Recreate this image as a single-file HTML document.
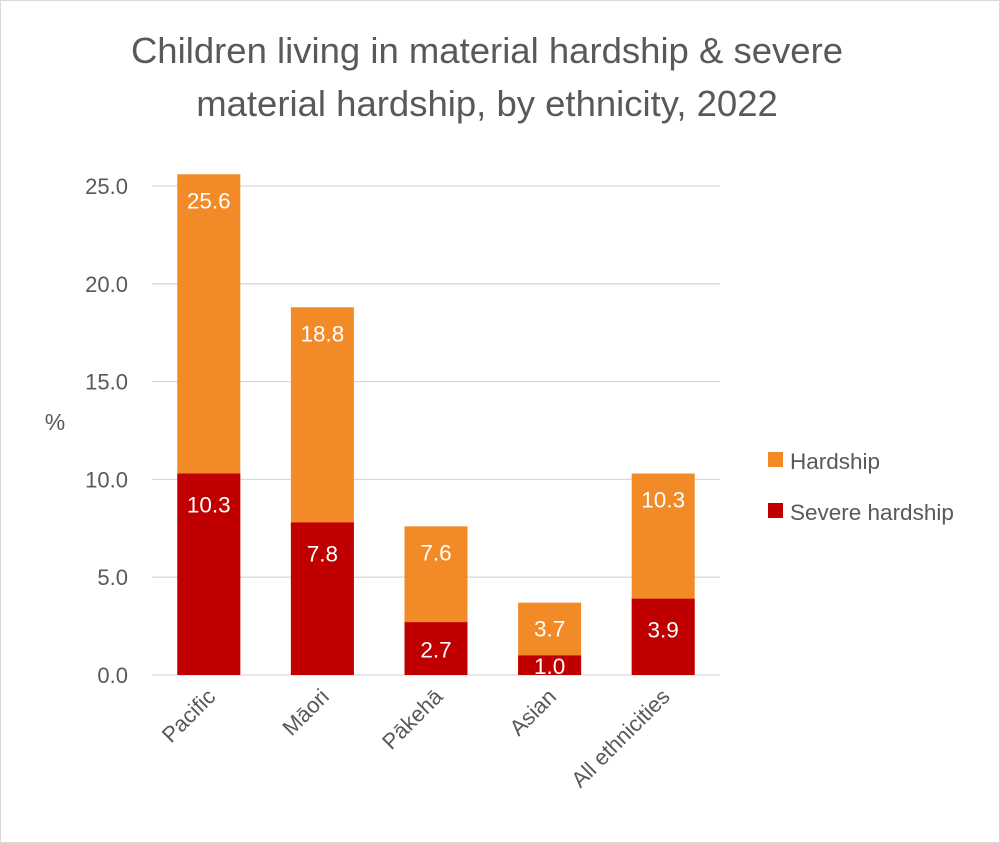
<!DOCTYPE html>
<html>
<head>
<meta charset="utf-8">
<style>
  html,body{margin:0;padding:0;background:#fff;}
  svg{display:block;font-family:"Liberation Sans",sans-serif;}
</style>
</head>
<body>
<svg id="chart" width="1000" height="843" viewBox="0 0 1000 843">
  <rect x="0.5" y="0.5" width="999" height="842" fill="#fff" stroke="#d9d9d9"/>
  <text x="487" y="63" text-anchor="middle" font-size="36.5" fill="#595959">Children living in material hardship &amp; severe</text>
  <text x="487" y="116" text-anchor="middle" font-size="36.5" fill="#595959">material hardship, by ethnicity, 2022</text>
  <text x="55" y="430" text-anchor="middle" font-size="23" fill="#595959">%</text>
  <g id="grid"></g>
  <g id="bars"></g>
  <g id="legend">
    <rect x="768" y="452" width="15" height="15" fill="#F28A27"/>
    <text x="790" y="469" font-size="22.5" fill="#595959">Hardship</text>
    <rect x="768" y="503" width="15" height="15" fill="#C00000"/>
    <text x="790" y="520" font-size="22.5" fill="#595959">Severe hardship</text>
  </g>
</svg>
<script>
const categories = ["Pacific","Māori","Pākehā","Asian","All ethnicities"];
const hardship = [25.6, 18.8, 7.6, 3.7, 10.3];
const severe = [10.3, 7.8, 2.7, 1.0, 3.9];
const yTicks = [0, 5, 10, 15, 20, 25];
const yTickLabels = ["0.0","5.0","10.0","15.0","20.0","25.0"];

const NS = "http://www.w3.org/2000/svg";
const plotLeft = 152, plotRight = 720, y0 = 675, pxPerUnit = 19.56;
const band = (plotRight - plotLeft) / categories.length;
const barW = 63;
function yScale(v){ return y0 - v * pxPerUnit; }
function xCenter(i){ return plotLeft + band * (i + 0.5); }
function mk(tag, attrs, parent){
  const el = document.createElementNS(NS, tag);
  for (const k in attrs) el.setAttribute(k, attrs[k]);
  parent.appendChild(el);
  return el;
}
const grid = document.getElementById("grid");
const bars = document.getElementById("bars");
yTicks.forEach((t, i) => {
  const y = yScale(t);
  const ln = mk("line", {x1: plotLeft, x2: plotRight, y1: y, y2: y, stroke: "#d9d9d9", "stroke-width": 1.3}, grid);
  
  
  const tx = mk("text", {x: 128, y: y + 8, "text-anchor": "end", "font-size": 22, fill: "#595959"}, grid);
  tx.textContent = yTickLabels[i];
  
  
});
categories.forEach((c, i) => {
  const cx = xCenter(i), x = cx - barW / 2;
  const yh = yScale(hardship[i]), ys = yScale(severe[i]);
  const rh = mk("rect", {x: x, y: yh, width: barW, height: y0 - yh, fill: "#F28A27"}, bars);
  
  
  const rs = mk("rect", {x: x, y: ys, width: barW, height: y0 - ys, fill: "#C00000"}, bars);
  
  
  const lh = mk("text", {x: cx, y: yh + 34, "text-anchor": "middle", "font-size": 22.5, fill: "#fff"}, bars);
  lh.textContent = hardship[i].toFixed(1);
  
  
  const hs = y0 - ys;
  const lsY = ys + Math.min(hs / 2, 30) + 9;
  const ls = mk("text", {x: cx, y: lsY, "text-anchor": "middle", "font-size": 22.5, fill: "#fff"}, bars);
  ls.textContent = severe[i].toFixed(1);
  
  
  const xl = mk("text", {x: cx + 8, y: 698, "text-anchor": "end", "font-size": 22, fill: "#595959", transform: "rotate(-45 " + (cx + 8) + " 698)"}, bars);
  xl.textContent = c;
  
  
});
</script>
</body>
</html>
